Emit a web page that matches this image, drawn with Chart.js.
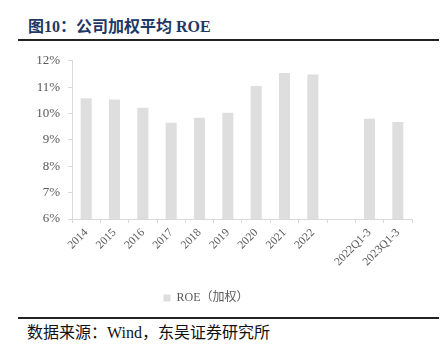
<!DOCTYPE html>
<html>
<head>
<meta charset="utf-8">
<script src="https://cdn.jsdelivr.net/npm/chart.js@4/dist/chart.umd.min.js"></script>
<style>
  body { margin: 0; width: 445px; height: 349px; background: #fff; position: relative; overflow: hidden; }
  #titulo { position: absolute; left: 28px; top: 13px; font: bold 16px "Liberation Serif", "Noto Sans CJK SC", serif; color: #1f3864; }
  .linha { position: absolute; left: 18px; width: 421px; height: 2px; background: #222; }
  #fonte { position: absolute; left: 27px; top: 319px; font: 16px "Liberation Serif", "Noto Sans CJK SC", serif; color: #111; }
  #caixa { position: absolute; left: 0; top: 45px; width: 445px; height: 269px; }
</style>
</head>
<body>
<div id="titulo">图10：公司加权平均 ROE</div>
<div class="linha" style="top:39px"></div>
<div id="caixa"><canvas id="roe-chart"></canvas></div>
<div class="linha" style="top:317px"></div>
<div id="fonte">数据来源：Wind，东吴证券研究所</div>

<script>
// Dados do gráfico
const categorias = ['2014', '2015', '2016', '2017', '2018', '2019', '2020', '2021', '2022', '', '2022Q1-3', '2023Q1-3'];
const roePonderado = [10.58, 10.53, 10.22, 9.65, 9.84, 10.03, 11.04, 11.54, 11.48, null, 9.80, 9.68];
const ticksY = [6, 7, 8, 9, 10, 11, 12];

const fonteSerif = "'Liberation Serif', 'Noto Sans CJK SC', serif";

new Chart(document.getElementById('roe-chart'), {
    type: 'bar',
    data: {
        labels: categorias,
        datasets: [{
            label: 'ROE（加权）',
            data: roePonderado,
            backgroundColor: '#dedede',
            borderWidth: 0,
            barPercentage: 0.78,
            categoryPercentage: 0.5
        }]
    },
    options: {
        responsive: true,
        maintainAspectRatio: false,
        animation: false,
        layout: { padding: { top: 4, right: 33, left: 0, bottom: 0 } },
        plugins: {
            tooltip: { enabled: false },
            legend: {
                position: 'bottom',
                labels: {
                    boxWidth: 7,
                    boxHeight: 7,
                    padding: 10,
                    color: '#595959',
                    font: { family: fonteSerif, size: 12 }
                }
            }
        },
        scales: {
            x: {
                grid: { drawOnChartArea: false, color: '#d9d9d9', tickLength: 4, offset: true },
                border: { color: '#d9d9d9' },
                ticks: {
                    color: '#595959',
                    font: { family: fonteSerif, size: 11.5 },
                    minRotation: 45,
                    maxRotation: 45,
                    autoSkip: false
                },
                afterFit: (escala) => { escala.height = 63; }
            },
            y: {
                min: 6,
                max: 12,
                afterBuildTicks: (escala) => { escala.ticks = ticksY.map(v => ({ value: v })); },
                grid: { drawOnChartArea: false, color: '#d9d9d9', tickLength: 4 },
                border: { color: '#d9d9d9' },
                ticks: {
                    color: '#595959',
                    font: { family: fonteSerif, size: 13 },
                    padding: 8,
                    callback: (v) => v + '%'
                },
                afterFit: (escala) => { escala.width = 72; }
            }
        }
    }
});
</script>
</body>
</html>
